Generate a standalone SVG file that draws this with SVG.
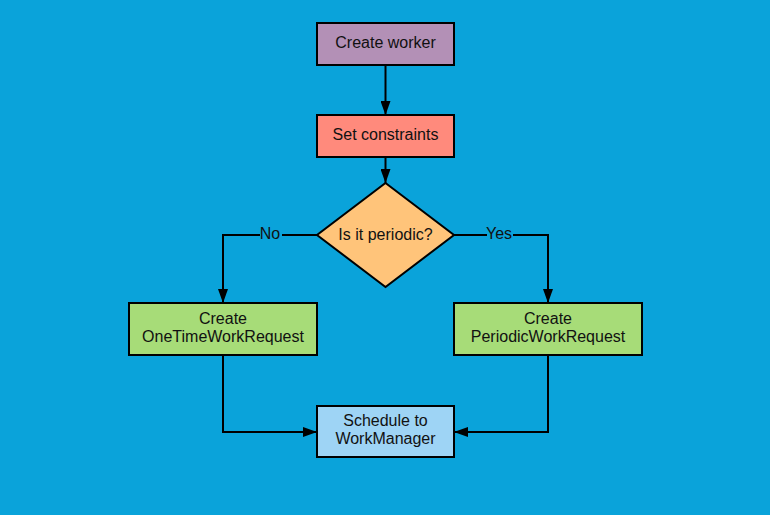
<svg xmlns="http://www.w3.org/2000/svg" width="770" height="515" viewBox="0 0 770 515">
<defs>
<marker id="arr" viewBox="0 0 14 10" refX="14" refY="5" markerWidth="14" markerHeight="10" markerUnits="userSpaceOnUse" orient="auto">
<path d="M0,0 L14,5 L0,10 Z" fill="#000"/>
</marker>
</defs>
<style>
.box{stroke:#000;stroke-width:2}
.t{font-family:"Liberation Sans",Arial,sans-serif;font-size:16px;fill:#111;text-anchor:middle}
.c{fill:none;stroke:#000;stroke-width:2;marker-end:url(#arr)}
.lbl{font-family:"Liberation Sans",Arial,sans-serif;font-size:16px;fill:#111;text-anchor:middle}
</style>
<rect width="770" height="515" fill="#0aa3da"/>
<g id="connectors">
<path class="c" d="M385.5,65 V115"/>
<path class="c" d="M385.5,157 V183"/>
<path class="c" d="M317,235 H223 V303"/>
<path class="c" d="M454,235 H548 V303"/>
<path class="c" d="M223,355 V432 H317"/>
<path class="c" d="M548,355 V432 H454"/>
<rect x="260" y="226" width="22" height="16" fill="#0aa3da"/>
<text class="lbl" x="270" y="239">No</text>
<rect x="487" y="226" width="26" height="16" fill="#0aa3da"/>
<text class="lbl" x="499" y="239">Yes</text>
</g>
<g id="create-worker">
<rect class="box" x="317" y="23" width="137" height="42" fill="#b390b6"/>
<text class="t" x="385.5" y="48">Create worker</text>
</g>
<g id="set-constraints">
<rect class="box" x="317" y="115" width="137" height="42" fill="#ff8a7c"/>
<text class="t" x="385.5" y="140">Set constraints</text>
</g>
<g id="is-periodic">
<polygon class="box" points="385.5,183 454,235 385.5,287 317,235" fill="#ffc47a"/>
<text class="t" x="385.5" y="240">Is it periodic?</text>
</g>
<g id="one-time">
<rect class="box" x="129" y="303" width="188" height="52" fill="#a7dc78"/>
<text class="t" x="223" y="324">Create</text>
<text class="t" x="223" y="342">OneTimeWorkRequest</text>
</g>
<g id="periodic">
<rect class="box" x="454" y="303" width="188" height="52" fill="#a7dc78"/>
<text class="t" x="548" y="324">Create</text>
<text class="t" x="548" y="342">PeriodicWorkRequest</text>
</g>
<g id="schedule">
<rect class="box" x="317" y="406" width="137" height="51" fill="#9ed4f5"/>
<text class="t" x="385.5" y="426">Schedule to</text>
<text class="t" x="385.5" y="444">WorkManager</text>
</g>
</svg>
